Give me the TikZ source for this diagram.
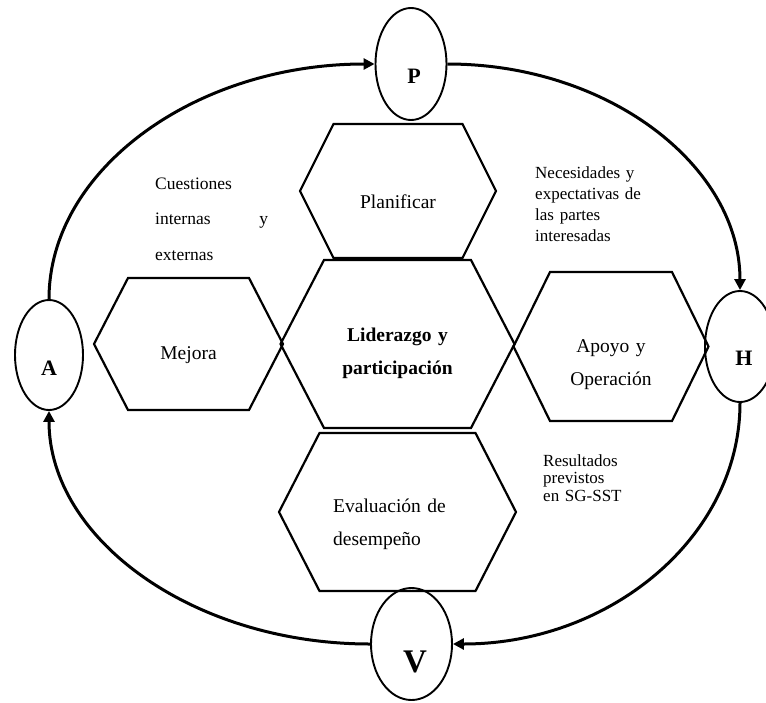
\documentclass[tikz,border=0pt]{standalone}
\usepackage{fontspec}
\setmainfont{Liberation Serif}
\usetikzlibrary{shapes.geometric,arrows.meta}
\newcommand{\hexa}[5]{\draw[hexline] ({#1-#5},#2) -- ({#1-#4},{#2-#3}) -- ({#1+#4},{#2-#3}) -- ({#1+#5},#2) -- ({#1+#4},{#2+#3}) -- ({#1-#4},{#2+#3}) -- cycle;}
\tikzset{
 hexline/.style={line width=2.2pt, line join=miter},
 circ/.style={ellipse, draw, line width=1.9pt, inner sep=0pt},
 cycarrow/.style={line width=3pt, -{Triangle[length=11pt,width=11pt]}},
 hextext/.style={font=\fontsize{19.5}{33}\selectfont, inner sep=0pt, align=center},
 note/.style={inner sep=0pt, align=left},
 letter/.style={font=\bfseries\fontsize{22}{26}\selectfont, inner sep=0pt}
}
\begin{document}
\begin{tikzpicture}[x=1pt,y=-1pt]
\useasboundingbox (0,0) rectangle (766,702);
% hexagons
\hexa{398}{191}{67}{64.5}{98}
\hexa{188.5}{344}{66}{60.5}{94.5}
\hexa{397.5}{344}{84}{73.5}{117}
\hexa{611}{346.5}{74.5}{61}{97.5}
\hexa{397.5}{512}{79}{78}{118.5}
% hexagon texts
\node[hextext, anchor=base] (plan) at (398,208) {Planificar};
\node[hextext, anchor=base] (mej) at (188.5,359) {Mejora};
\node[hextext, font=\bfseries\fontsize{19.5}{33}\selectfont, text width=140pt, anchor=base] (lid) at (397.5,341) {Liderazgo y\\participación};
\node[hextext, text width=130pt, anchor=base] (apo) at (611,352) {Apoyo y\\Operación};
\node[hextext, align=left, text width=140pt, anchor=base west] (eva) at (333,512) {Evaluación de\\desempeño};
% notes
\node[note, font=\fontsize{17.5}{35.5}\selectfont, text width=113pt, anchor=base west] (cue) at (155,189) {Cuestiones\\internas\hfill y\\externas};
\node[note, font=\fontsize{17}{21}\selectfont, text width=130pt, anchor=base west] (nec) at (535,178) {Necesidades y\\expectativas de\\las partes\\interesadas};
\node[note, font=\fontsize{17}{17.5}\selectfont, text width=110pt, anchor=base west] (res) at (543,466) {Resultados\\previstos\\en SG-SST};
% PHVA ellipses
\node[circ, minimum width=71pt, minimum height=112pt] (P) at (411,64) {};
\node[circ, minimum width=70pt, minimum height=111pt] (H) at (740,346.5) {};
\node[circ, minimum width=68pt, minimum height=110pt] (A) at (49,355) {};
\node[circ, minimum width=81pt, minimum height=112pt] (V) at (411.5,644) {};
\node[letter] (Pl) at (414,76) {P};
\node[letter] (Hl) at (744,358) {H};
\node[letter] (Al) at (49,368) {A};
\node[letter, font=\bfseries\fontsize{33}{36}\selectfont] (Vl) at (415,662) {V};
% cycle arrows
\draw[cycarrow] (A.north) .. controls (49,170) and (195,64) .. (P.west);
\draw[cycarrow] (P.east) .. controls (608.5,64) and (740,166) .. (H.north);
\draw[cycarrow] (H.south) .. controls (740,536) and (611,644) .. (V.east);
\draw[cycarrow] (V.west) .. controls (193,644) and (49,539) .. (A.south);
\end{tikzpicture}
\end{document}
